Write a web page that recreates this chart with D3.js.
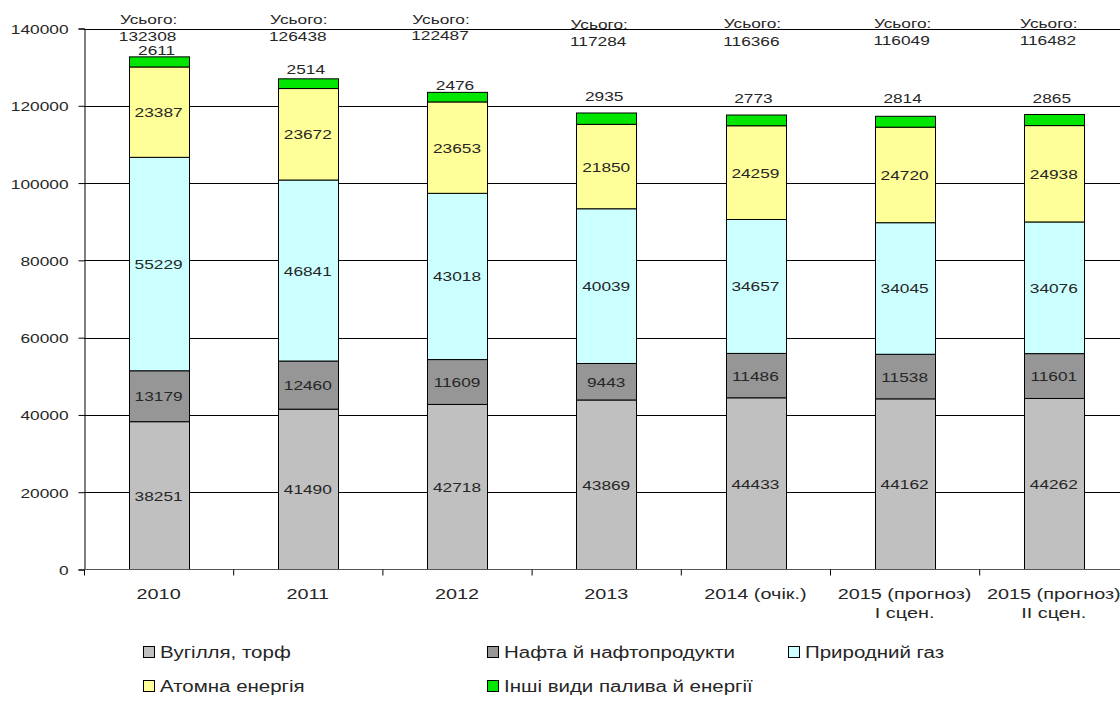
<!DOCTYPE html>
<html>
<head>
<meta charset="utf-8">
<script src="https://cdn.jsdelivr.net/npm/d3@7"></script>
<style>
  html, body { margin: 0; padding: 0; background: #fff; }
  svg { display: block; font-family: "Liberation Sans", Arial, sans-serif; }
</style>
</head>
<body>
<svg id="chart" width="1120" height="720"></svg>
<script>
// Years / scenarios (second line of the label, if any)
const categories = ["2010", "2011", "2012", "2013", "2014 (очік.)", "2015 (прогноз)", "2015 (прогноз)"];
const subLabels  = ["", "", "", "", "", "I сцен.", "II сцен."];

// Consumption by energy source
const coal    = [38251, 41490, 42718, 43869, 44433, 44162, 44262];
const oil     = [13179, 12460, 11609,  9443, 11486, 11538, 11601];
const gas     = [55229, 46841, 43018, 40039, 34657, 34045, 34076];
const nuclear = [23387, 23672, 23653, 21850, 24259, 24720, 24938];
const other   = [ 2611,  2514,  2476,  2935,  2773,  2814,  2865];
const totals  = [132308, 126438, 122487, 117284, 116366, 116049, 116482];

const seriesNames = ["Вугілля, торф", "Нафта й нафтопродукти", "Природний газ", "Атомна енергія", "Інші види палива й енергії"];
const yTicks = [0, 20000, 40000, 60000, 80000, 100000, 120000, 140000];

const colors = ["#c0c0c0", "#969696", "#ccffff", "#ffff99", "#00e600"];

const SX = 1.28;            // horizontal text stretch
const TXT = "#262626";

const svg = d3.select("#chart");
const x0 = 84, yBase = 569.5, yTop = 28.5;

const x = d3.scaleBand().domain(d3.range(categories.length))
  .range([x0, x0 + 149.2 * categories.length])
  .paddingInner(0.6).paddingOuter(0.3);
const y = d3.scaleLinear().domain([0, 140000]).range([yBase, yTop]);

// text helper: stretched label anchored at (px, py)
function label(g, px, py, txt, size, anchor = "middle") {
  return g.append("text")
    .attr("transform", `translate(${px},${py}) scale(${SX},1)`)
    .attr("text-anchor", anchor)
    .attr("font-size", size)
    .attr("fill", TXT)
    .text(txt);
}

// horizontal gridlines
svg.append("g").selectAll("line").data(yTicks.slice(1)).join("line")
  .attr("x1", x0).attr("x2", 1120)
  .attr("y1", d => Math.round(y(d)) + 0.5).attr("y2", d => Math.round(y(d)) + 0.5)
  .attr("stroke", "#000").attr("stroke-width", 1);

// y axis
const yAxis = d3.axisLeft(y).tickValues(yTicks).tickSize(6).tickPadding(0).tickFormat(d3.format("d"));
const gy = svg.append("g").attr("transform", `translate(${x0 + 0.5},0)`).call(yAxis);
gy.select(".domain").attr("stroke", "#000");
gy.selectAll(".tick line").attr("stroke", "#000");
gy.selectAll(".tick text").remove();
gy.selectAll(".tick").each(function (d) {
  label(d3.select(this), -16, 5, d3.format("d")(d), 13.5, "end");
});

// stacked bars
const rows = categories.map((c, i) => [coal[i], oil[i], gas[i], nuclear[i], other[i]]);
const stack = rows.map(r => {
  let acc = 0;
  return r.map((v, k) => { const s = { y0: acc, y1: acc + v, v, k }; acc += v; return s; });
});

const barG = svg.append("g");
stack.forEach((segs, i) => {
  const g = barG.append("g");
  g.selectAll("rect").data(segs).join("rect")
    .attr("x", Math.round(x(i)) + 0.5)
    .attr("width", Math.round(x.bandwidth()))
    .attr("y", d => y(d.y1))
    .attr("height", d => y(d.y0) - y(d.y1))
    .attr("fill", d => colors[d.k])
    .attr("stroke", "#000").attr("stroke-width", 1);

  const cx = x(i) + x.bandwidth() / 2;
  // values inside the first four segments
  segs.slice(0, 4).forEach(d => {
    label(g, cx, y((d.y0 + d.y1) / 2) + 5, d.v, 13.5);
  });
});

// labels for the small top segment and the totals
const otherLabelGap = [2, 5, 2, 12, 12, 13, 12];
const totalDx = [-10, -9, -16, -7, -3, -2, -5];
const totalY1 = [24, 24, 24, 29, 28, 28, 28];
const totalY2 = [41, 41, 40, 46, 46, 45, 45];
const lbl = svg.append("g");
stack.forEach((segs, i) => {
  const cx = x(i) + x.bandwidth() / 2;
  const top = y(segs[4].y1);
  label(lbl, cx - 2, top - otherLabelGap[i], other[i], 13.5);
  label(lbl, cx + totalDx[i], totalY1[i], "Усього:", 13.5);
  label(lbl, cx + totalDx[i] - 1, totalY2[i], totals[i], 13.5);
});

// x axis line with ticks between categories
svg.append("line").attr("x1", x0).attr("x2", 1120)
  .attr("y1", yBase).attr("y2", yBase).attr("stroke", "#555");
svg.append("g").selectAll("line").data(d3.range(categories.length + 1)).join("line")
  .attr("x1", i => x0 + 0.5 + x.step() * i).attr("x2", i => x0 + 0.5 + x.step() * i)
  .attr("y1", yBase).attr("y2", yBase + 6).attr("stroke", "#000");

const xl = svg.append("g");
categories.forEach((c, i) => {
  const cx = x(i) + x.bandwidth() / 2;
  label(xl, cx, yBase + 29, c, 15.5);
  if (subLabels[i]) label(xl, cx, yBase + 48, subLabels[i], 15.5);
});

// legend
const legendPos = [[143, 652], [487, 652], [788, 652], [143, 686], [487, 686]];
const lg = svg.append("g");
seriesNames.forEach((n, k) => {
  const [lx, ly] = legendPos[k];
  lg.append("rect").attr("x", lx + 0.5).attr("y", ly - 5.5).attr("width", 11).attr("height", 11)
    .attr("fill", colors[k]).attr("stroke", "#000");
  label(lg, lx + 17, ly + 6, n, 16, "start");
});
</script>
</body>
</html>
